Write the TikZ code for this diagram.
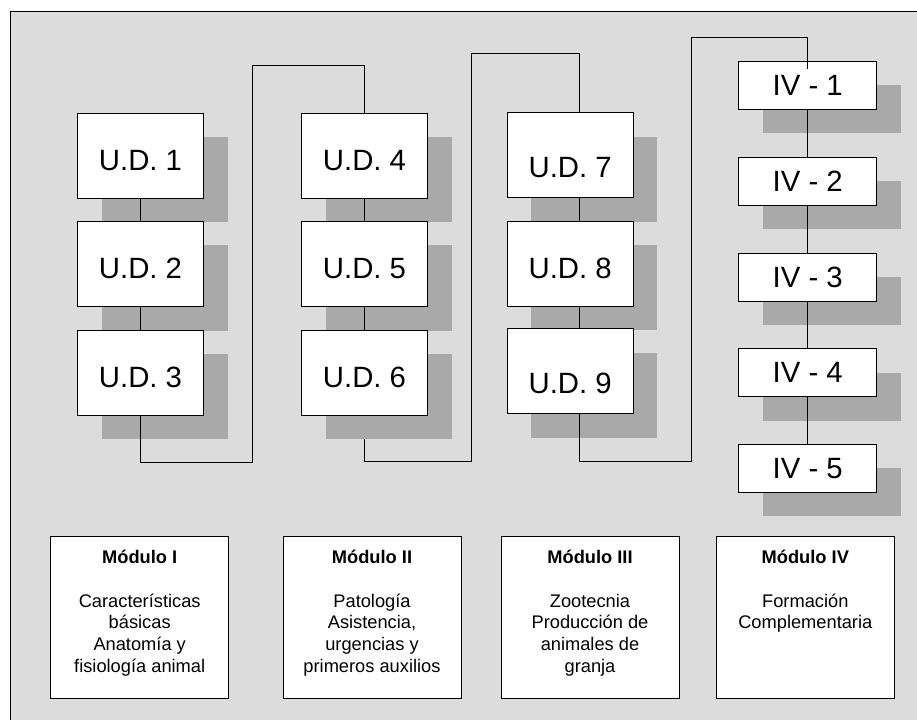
\documentclass[tikz,border=0pt]{standalone}
\usepackage{fontspec}
\setmainfont{Liberation Sans}
\usepackage{tikz}
\usetikzlibrary{calc,shadows}

\definecolor{bggray}{RGB}{220,220,220}
\definecolor{shadowgray}{RGB}{169,169,169}

\begin{document}
\begin{tikzpicture}[x=0.75pt, y=-0.75pt,
	every node/.style={inner sep=0pt},
	unit/.style={draw, fill=white, line width=0.6pt,
		general shadow={fill=shadowgray, shadow xshift=18pt, shadow yshift=-18pt}},
	udbox/.style={unit, minimum width=94.5pt, minimum height=63.75pt,
		font=\fontsize{22}{26}\selectfont, text height=22pt},
	udlow/.style={text height=34pt},
	ivbox/.style={unit, minimum width=103.5pt, minimum height=36pt,
		font=\fontsize{22}{26}\selectfont},
	modbox/.style={draw, fill=white, line width=0.6pt, minimum width=133.5pt, minimum height=121.5pt},
	modtext/.style={anchor=north, align=center, font=\fontsize{13.7}{16.3}\selectfont},
	link/.style={line width=0.6pt}]
	
	\useasboundingbox (0,0) rectangle (917,720);
	
	% ----- background panel (open to the right and bottom)
	\fill[bggray] (10,12) rectangle (917,720);
	\draw[line width=0.75pt] (917,12) -- (10,12) -- (10,720);
	
	% ----- Modulo I units
	\node[udbox] (ud1) at (140.5,155.5) {U.D. 1};
	\node[udbox] (ud2) at (140.5,264) {U.D. 2};
	\node[udbox] (ud3) at (140.5,372.5) {U.D. 3};
	
	% ----- Modulo II units
	\node[udbox] (ud4) at (364.5,155.5) {U.D. 4};
	\node[udbox] (ud5) at (364.5,264) {U.D. 5};
	\node[udbox] (ud6) at (364.5,372.5) {U.D. 6};
	
	% ----- Modulo III units
	\node[udbox, udlow] (ud7) at (570.2,155.2) {U.D. 7};
	\node[udbox] (ud8) at (570.2,263.5) {U.D. 8};
	\node[udbox, udlow] (ud9) at (570.2,371) {U.D. 9};
	
	% ----- Modulo IV units
	\node[ivbox] (iv1) at (807.7,85.3) {IV - 1};
	\node[ivbox] (iv2) at (807.7,181) {IV - 2};
	\node[ivbox] (iv3) at (807.7,277) {IV - 3};
	\node[ivbox] (iv4) at (807.7,372.7) {IV - 4};
	\node[ivbox] (iv5) at (807.7,468.3) {IV - 5};
	
	% ----- links inside each column
	\draw[link] (ud1) -- (ud2);
	\draw[link] (ud2) -- (ud3);
	\draw[link] (ud4) -- (ud5);
	\draw[link] (ud5) -- (ud6);
	\draw[link] ([xshift=6.75pt]ud7.south) -- ([xshift=6.75pt]ud8.north);
	\draw[link] ([xshift=6.75pt]ud8.south) -- ([xshift=6.75pt]ud9.north);
	\draw[link] (iv1) -- (iv2);
	\draw[link] (iv2) -- (iv3);
	\draw[link] (iv3) -- (iv4);
	\draw[link] (iv4) -- (iv5);
	
	% ----- links from one column to the next
	\coordinate (c1a) at (252.3,462);
	\coordinate (c1b) at (252.3,65.7);
	\draw[link] (ud3.south) |- (c1a) -- (c1b) -| (ud4.north);
	
	\coordinate (c2a) at (471.7,461);
	\coordinate (c2b) at (471.7,53.3);
	\draw[link] ([yshift=-18pt]ud6.south) |- (c2a) -- (c2b) -| ([xshift=6.75pt]ud7.north);
	
	\coordinate (c3a) at (691,461);
	\coordinate (c3b) at (691,37.3);
	\draw[link] ([xshift=6.75pt]ud9.south) |- (c3a) -- (c3b) -| ([yshift=-6pt]iv1.north);
	
	% ----- module descriptions
	\node[modbox] (m1) at (139.7,617.5) {};
	\node[modtext] (m1txt) at ($(m1.north)+(0,14)$)
	{\textbf{Módulo I}\\[16.3pt] Características\\ básicas\\ Anatomía y\\ fisiología animal};
	
	\node[modbox] (m2) at (372,617.5) {};
	\node[modtext] (m2txt) at ($(m2.north)+(0,14)$)
	{\textbf{Módulo II}\\[16.3pt] Patología\\ Asistencia,\\ urgencias y\\ primeros auxilios};
	
	\node[modbox] (m3) at (590,617.5) {};
	\node[modtext] (m3txt) at ($(m3.north)+(0,14)$)
	{\textbf{Módulo III}\\[16.3pt] Zootecnia\\ Producción de\\ animales de\\ granja};
	
	\node[modbox] (m4) at (805.3,617.5) {};
	\node[modtext] (m4txt) at ($(m4.north)+(0,14)$)
	{\textbf{Módulo IV}\\[16.3pt] Formación\\ Complementaria};
	
\end{tikzpicture}
\end{document}
